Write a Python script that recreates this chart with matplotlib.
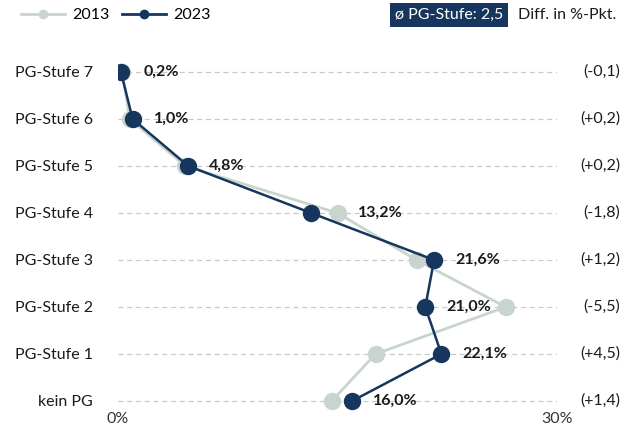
import matplotlib.pyplot as plt
from matplotlib.lines import Line2D

plt.rcParams['font.family'] = ['Lato', 'DejaVu Sans']

# data, listed bottom (kein PG) to top (PG-Stufe 7)
categories = ['kein PG', 'PG-Stufe 1', 'PG-Stufe 2', 'PG-Stufe 3',
              'PG-Stufe 4', 'PG-Stufe 5', 'PG-Stufe 6', 'PG-Stufe 7']
share_2023 = [16.0, 22.1, 21.0, 21.6, 13.2, 4.8, 1.0, 0.2]
diff = [1.4, 4.5, -5.5, 1.2, -1.8, 0.2, 0.2, -0.1]
share_2013 = [14.6, 17.6, 26.5, 20.4, 15.0, 4.6, 0.8, 0.3]
avg_label = 'ø PG-Stufe: 2,5'

NAVY = '#17365d'
LIGHT = '#c8d5cf'
FS = 11.5

fig = plt.figure(figsize=(6.22, 4.30), dpi=100)
ax_left, ax_right = 118, 557
ax = fig.add_axes([ax_left / 622, 1 - 410.4 / 430, (ax_right - ax_left) / 622, (410.4 - 57.9) / 430])

y = list(range(len(categories)))

for yi in y:
    ax.axhline(yi, color='#c8c8c8', lw=0.9, ls=(0, (4, 3)), zorder=0)

ax.plot(share_2013, y, color=LIGHT, lw=2, marker='o', ms=11.5, zorder=2)
ax.plot(share_2023, y, color=NAVY, lw=1.8, marker='o', ms=11.5, zorder=3)

# value labels for 2023 (pushed past the 2013 dot when it sits just right of it)
for yi, v23, v13 in zip(y, share_2023, share_2013):
    anchor = v13 if 0 < v13 - v23 < 3 else v23
    txt = f'{v23:.1f}%'.replace('.', ',')
    ax.annotate(txt, (anchor, yi), xytext=(15, 0), textcoords='offset points',
                ha='left', va='center', fontsize=FS, fontweight='bold', color='#1a1a1a')

# differences on the right
diff_x = (620 - ax_left) / (ax_right - ax_left)
for yi, d in zip(y, diff):
    txt = f'({d:+.1f})'.replace('.', ',')
    ax.text(diff_x, yi, txt, transform=ax.get_yaxis_transform(), fontsize=FS,
            ha='right', va='center', color='#1a1a1a')

ax.set_xlim(0, 30)
ax.set_ylim(-0.2, 7.3)
ax.set_yticks(y)
ax.set_yticklabels(categories, fontsize=FS, color='#1a1a1a')
ax.set_xticks([0, 30])
ax.set_xticklabels(['0%', '30%'], fontsize=FS, color='#333333')
ax.tick_params(length=0)
ax.tick_params(axis='x', pad=1)
ax.tick_params(axis='y', pad=18)
for s in ax.spines.values():
    s.set_visible(False)

handles = [Line2D([], [], color=LIGHT, lw=2, marker='o', ms=6),
           Line2D([], [], color=NAVY, lw=2, marker='o', ms=6)]
fig.legend(handles, ['2013', '2023'], loc='upper left', bbox_to_anchor=(0.01, 1.015),
           ncol=2, frameon=False, fontsize=FS, handlelength=2.8, columnspacing=0.8,
           handletextpad=0.4)

fig.text(449 / 622, 1 - 15 / 430, avg_label, ha='center', va='center', fontsize=FS,
         color='white', bbox=dict(boxstyle='square,pad=0.3', fc=NAVY, ec='none'))
fig.text(616 / 622, 1 - 15 / 430, 'Diff. in %-Pkt.', ha='right', va='center',
         fontsize=FS, color='#1a1a1a')

fig.savefig('out.png', dpi=100)
